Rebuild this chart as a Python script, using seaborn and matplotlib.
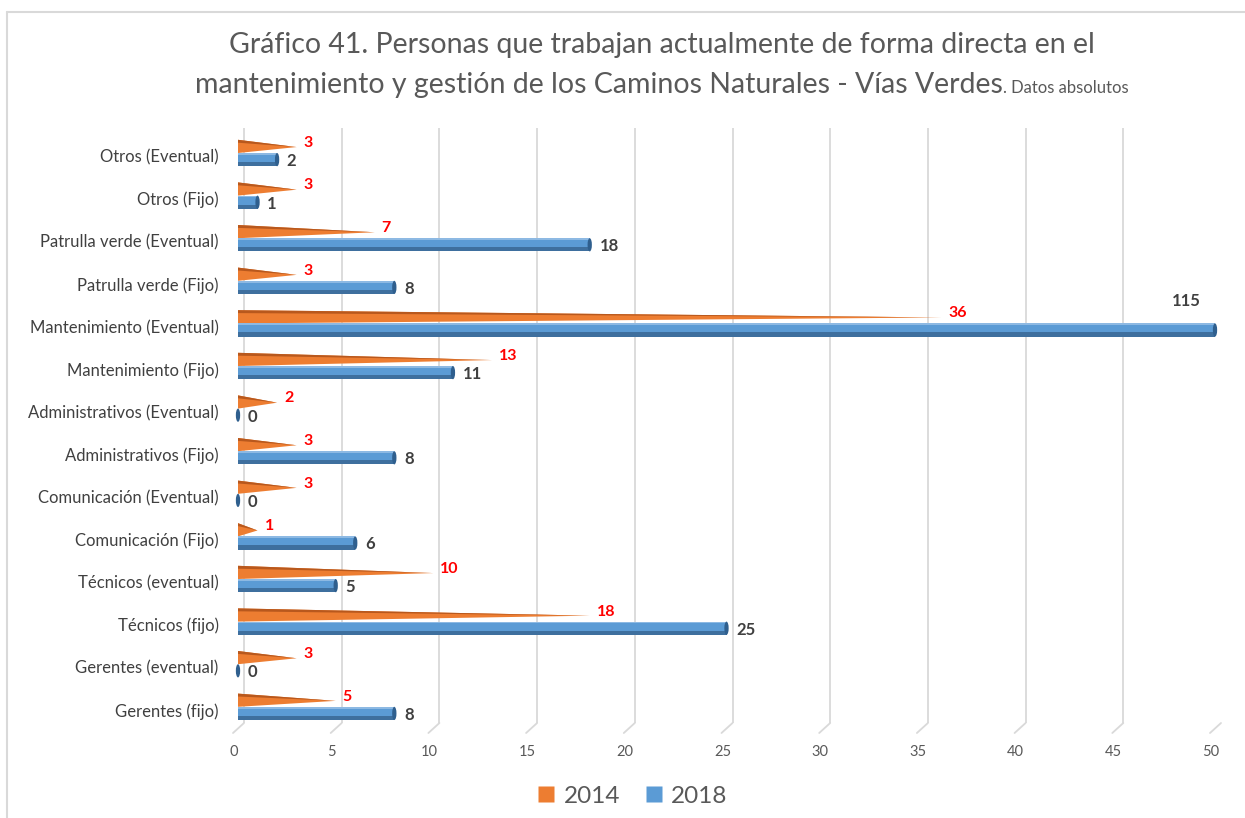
import matplotlib
matplotlib.use("Agg")
import matplotlib.pyplot as plt
import seaborn as sns
import pandas as pd
from matplotlib.patches import Polygon, Ellipse, Rectangle
from matplotlib.lines import Line2D
from matplotlib.transforms import ScaledTranslation, IdentityTransform

# ---- data -------------------------------------------------------------
categories = [
    "Otros (Eventual)", "Otros (Fijo)", "Patrulla verde (Eventual)",
    "Patrulla verde (Fijo)", "Mantenimiento (Eventual)", "Mantenimiento (Fijo)",
    "Administrativos (Eventual)", "Administrativos (Fijo)",
    "Comunicación (Eventual)", "Comunicación (Fijo)", "Técnicos (eventual)",
    "Técnicos (fijo)", "Gerentes (eventual)", "Gerentes (fijo)",
]
values_2014 = [3, 3, 7, 3, 36, 13, 2, 3, 3, 1, 10, 18, 3, 5]
values_2018 = [2, 1, 18, 8, 115, 11, 0, 8, 0, 6, 5, 25, 0, 8]
years = ["2014", "2018"]
x_ticks = list(range(0, 51, 5))
x_max = 50

title_line1 = "Gráfico 41. Personas que trabajan actualmente de forma directa en el"
title_line2 = "mantenimiento y gestión de los Caminos Naturales - Vías Verdes"
title_note = ". Datos absolutos"

ORANGE = "#ED7D31"
ORANGE_DARK = "#B8581D"
BLUE = "#5B9BD5"
BLUE_DARK = "#3E6F9E"
BLUE_LIGHT = "#8DB9E3"
GREY_TEXT = "#595959"
GRID = "#D9D9D9"

df = pd.DataFrame({
    "categoria": categories * 2,
    "anio": [years[0]] * len(categories) + [years[1]] * len(categories),
    "valor": values_2014 + values_2018,
})

# ---- figure -----------------------------------------------------------
sns.set_theme(style="white")
plt.rcParams["font.family"] = ["Lato", "DejaVu Sans"]

W, H = 1245, 818
fig = plt.figure(figsize=(W / 100, H / 100), dpi=100)
ax_left, ax_right, ax_top, ax_bottom = 238, 1215, 128, 723
ax = fig.add_axes([ax_left / W, 1 - ax_bottom / H,
                   (ax_right - ax_left) / W, (ax_bottom - ax_top) / H])

sns.barplot(data=df, y="categoria", x="valor", hue="anio",
            order=categories, hue_order=years,
            palette=[ORANGE, BLUE], width=0.62, dodge=True,
            orient="h", errorbar=None, legend=False, ax=ax, saturation=1)

ax.set_xlim(0, x_max)
ax.set_ylim(13.38, -0.587)
ax.set_xticks(x_ticks)
ax.set_xlabel("")
ax.set_ylabel("")
for s in ax.spines.values():
    s.set_visible(False)

# back-wall gridlines (slightly shifted, as in a 3-D chart)
ax.xaxis.grid(True, color=GRID, lw=1.3)
ax.set_axisbelow(True)
wall_shift = ScaledTranslation(6 / 100, 0, fig.dpi_scale_trans)
for gl in ax.get_xgridlines():
    gl.set_transform(gl.get_transform() + wall_shift)

ax.tick_params(axis="x", length=0, pad=16, labelsize=10.5, labelcolor=GREY_TEXT)
ax.tick_params(axis="y", length=0, pad=14, labelsize=12, labelcolor="#404040")
label_shift = ScaledTranslation(-4 / 100, 0, fig.dpi_scale_trans)
for lbl in ax.get_xticklabels():
    lbl.set_transform(lbl.get_transform() + label_shift)
y_shift = ScaledTranslation(0, -3 / 100, fig.dpi_scale_trans)
for lbl in ax.get_yticklabels():
    lbl.set_transform(lbl.get_transform() + y_shift)

# ---- 2014: cones drawn as triangles ------------------------------------
for patch, v in zip(ax.containers[0], values_2014):
    x0, y0 = patch.get_x(), patch.get_y()
    w, h = patch.get_width(), patch.get_height()
    patch.set_visible(False)
    tip_y = y0 + 0.55 * h
    ax.add_patch(Polygon([(x0, y0), (x0, y0 + h), (x0 + w, tip_y)],
                         closed=True, facecolor=ORANGE, edgecolor="none", zorder=3))
    ax.add_patch(Polygon([(x0, y0), (x0, y0 + 0.22 * h), (x0 + w, tip_y)],
                         closed=True, facecolor=ORANGE_DARK, edgecolor="none", zorder=3))
    ax.annotate(str(v), xy=(x0 + w, tip_y), xytext=(5, 3), textcoords="offset points",
                ha="left", va="center", color="#FF0000", fontsize=11.5,
                fontweight="bold", zorder=5)

# ---- 2018: cylinders ---------------------------------------------------
for patch, v in zip(ax.containers[1], values_2018):
    x0, y0 = patch.get_x(), patch.get_y()
    w, h = patch.get_width(), patch.get_height()
    patch.set_zorder(3)
    patch.set_edgecolor("none")
    end = min(x0 + w, x_max)
    ax.add_patch(Rectangle((x0, y0 + 0.68 * h), w, 0.32 * h,
                           facecolor=BLUE_DARK, edgecolor="none", zorder=3))
    ax.add_patch(Rectangle((x0, y0), w, 0.14 * h,
                           facecolor=BLUE_LIGHT, edgecolor="none", zorder=3))
    ax.add_patch(Ellipse((end, y0 + h / 2), 0.22, h, facecolor="#2F5F8E",
                         edgecolor="none", zorder=4, clip_on=False))
    if x0 + w > x_max:
        ax.annotate(str(v), xy=(end, y0 + h / 2), xytext=(-10, 21),
                    textcoords="offset points", ha="right", va="center",
                    color="#404040", fontsize=12, fontweight="bold", zorder=5)
    else:
        ax.annotate(str(v), xy=(end, y0 + h / 2), xytext=(7, -1),
                    textcoords="offset points", ha="left", va="center",
                    color="#404040", fontsize=12, fontweight="bold", zorder=5)

# floor lines joining the wall gridlines to the axis labels
fig.canvas.draw()
for t in x_ticks:
    px, py = ax.transData.transform((t, 0))
    py_bottom = ax.transAxes.transform((0, 0))[1]
    fig.add_artist(Line2D([px + 6, px - 5], [py_bottom, py_bottom - 10],
                          transform=IdentityTransform(), color=GRID, lw=1.3))

# ---- title -------------------------------------------------------------
renderer = fig.canvas.get_renderer()
title_cx = 662
t1 = fig.text(title_cx / W, 1 - 45 / H, title_line1, ha="center", va="center",
              fontsize=20.5, color=GREY_TEXT)
t2 = fig.text(0, 1 - 93 / H, title_line2, ha="left", va="baseline",
              fontsize=20.5, color=GREY_TEXT)
t3 = fig.text(0, 1 - 93 / H, title_note, ha="left", va="baseline",
              fontsize=12, color=GREY_TEXT)
w2 = t2.get_window_extent(renderer).width
w3 = t3.get_window_extent(renderer).width
start = title_cx - (w2 + w3) / 2
t2.set_x(start / W)
t3.set_x((start + w2) / W)

# ---- legend ------------------------------------------------------------
handles = [Line2D([], [], marker="s", linestyle="none", markersize=11,
                  markerfacecolor=c, markeredgecolor="none")
           for c in (ORANGE, BLUE)]
fig.legend(handles, years, loc="center", bbox_to_anchor=(632 / W, 1 - 796 / H),
           ncol=2, frameon=False, fontsize=17.5, labelcolor=GREY_TEXT,
           handletextpad=0.3, columnspacing=1.0, handlelength=0.8)

# ---- frame (top and left edges) ---------------------------------------
fig.add_artist(Line2D([7, W], [H - 12, H - 12], transform=IdentityTransform(),
                      color="#D9D9D9", lw=1.5))
fig.add_artist(Line2D([7, 7], [H - 12, 0], transform=IdentityTransform(),
                      color="#D9D9D9", lw=1.5))

fig.savefig("out.png", dpi=100)
